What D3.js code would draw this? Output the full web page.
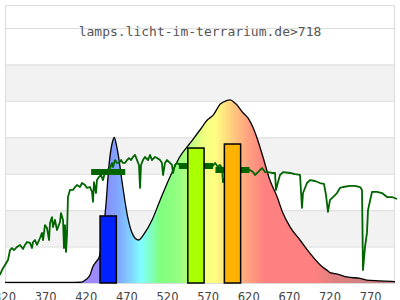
<!DOCTYPE html>
<html>
<head>
<meta charset="utf-8">
<script src="https://cdn.jsdelivr.net/npm/d3@7"></script>
<style>
  body { margin: 0; background: #fff; }
  svg { display: block; }
</style>
</head>
<body>
<div id="chart"></div>
<script>
// lamp spectrum (relative, peak ~100)
const lampNm  = [320, 360, 400, 412, 416, 420, 424.6, 428, 433, 436, 440, 444, 448, 452, 454.5, 457, 459, 465, 471, 477.5, 484, 492, 501, 511, 523, 535, 548, 560, 569, 576, 585, 592, 597, 603, 607, 612, 619, 625, 631, 637.5, 646, 655, 662, 671, 683, 695, 708, 717.5, 721, 729, 741, 757, 765, 780, 800];
const lampVal = [0.3, 0.3, 0.3, 0.4, 0.8, 2, 4.4, 8.8, 12.1, 14.3, 25, 41.7, 64.8, 77, 80, 76, 71.4, 52.7, 36.2, 26.4, 23.6, 27.5, 34.6, 45.6, 58.2, 69.2, 76.9, 84, 89.5, 92, 98.3, 100, 100.5, 98.8, 97, 93.9, 90.6, 85.6, 78.5, 69.2, 56.5, 47.2, 38.4, 30.7, 23.6, 16.5, 9.9, 6.6, 5.5, 4.9, 3.3, 2.5, 1.6, 1.2, 0.8];

// daylight reference
const sunNm  = [313.8, 316.3, 320, 323.7, 326.2, 328.6, 331.1, 334.8, 338.5, 342.2, 344.6, 347.1, 350.8, 353.2, 354.5, 356.9, 359.4, 363.1, 365.5, 366.8, 369.2, 371.7, 374.2, 375.4, 377.8, 379.1, 381.5, 384, 387.7, 388.9, 391.4, 392.6, 393.8, 395.1, 396.3, 397.5, 400, 403.7, 406.2, 408.6, 412.3, 414.8, 418.5, 420.9, 424.6, 427.1, 428.3, 429.5, 432, 433.2, 435.7, 438.2, 440.6, 443.1, 445.5, 449.2, 451.7, 452.9, 455.4, 457.8, 460.3, 462.8, 465.2, 467.7, 470.2, 472.6, 475.1, 477.5, 480, 482.5, 484.9, 486.2, 487.4, 489.8, 492.3, 496, 498.5, 500.9, 504.6, 507.1, 510.8, 513.2, 514.5, 516.9, 519.4, 523.1, 525.5, 526.8, 529.2, 531.7, 535.4, 539.1, 542.8, 547.7, 553.8, 560, 566.2, 569.9, 574.8, 578.5, 582.2, 584.6, 587.1, 588.3, 597, 604.4, 610.3, 615.2, 621.5, 625.2, 627.7, 631.4, 633.8, 636.3, 640, 643.7, 648.6, 652.3, 653.5, 656, 658.5, 662.2, 670.8, 676.9, 683.1, 685.5, 686.8, 691.7, 695.4, 701.5, 707.7, 712.6, 715.1, 717.5, 720, 723.7, 728.6, 732.3, 736, 744.6, 750.8, 757, 759.4, 760.6, 763.1, 765.5, 766.8, 771.7, 777.9, 784, 790.2, 796.3, 802.5];
const sunVal = [4.4, 7.1, 9.9, 12.6, 18.1, 19.2, 18.1, 19.8, 20.9, 18.7, 20.9, 22.5, 22, 19.2, 22.5, 23.6, 20.9, 24.7, 27.5, 23.6, 31.8, 30.2, 23.6, 32.9, 36.2, 30.7, 34.6, 29.1, 33.5, 38.4, 34.6, 19.2, 31.8, 17, 26.4, 47.2, 51.1, 51.1, 52.7, 53.8, 52.7, 54.9, 53.8, 52.2, 52.7, 50, 44.5, 55.4, 49.4, 56.5, 58.2, 59.3, 56.5, 60.9, 62, 63.1, 65.9, 63.7, 67.5, 65.9, 65.9, 67.5, 65.9, 65.9, 67.5, 68.6, 67.5, 69.2, 70.3, 67.5, 64.8, 52.2, 64.8, 67.5, 69.2, 67.5, 70.3, 67.5, 69.2, 68.6, 67.5, 65.9, 59.3, 65.9, 67.5, 65.9, 64.8, 60.4, 64.8, 65.9, 64.8, 63.1, 64.8, 63.7, 64.2, 64.2, 64.8, 63.1, 63.7, 65.9, 63.7, 64.8, 63.1, 55.4, 63.1, 62, 63.1, 62, 62, 60.9, 59.3, 60.9, 62, 63.1, 60.9, 60.9, 60.4, 60.4, 51.1, 55.4, 59.3, 60.9, 60.4, 59.8, 59.3, 41.2, 49.4, 54.9, 56.5, 56, 54.9, 54.4, 48.3, 39, 45.6, 47.2, 49.4, 52.2, 52.7, 53.3, 53.3, 52.7, 51.1, 7.1, 19.8, 27.5, 40.1, 50, 50, 49.4, 47.2, 47.2, 46.1];

// lamp bars and daylight averages
const bandNm   = [447, 555, 600];
const barVal   = [36.8, 74.1, 76.3];
const barColor = ["#0022ff", "#aaff00", "#ffb300"];
const avgVal   = [61, 64.2, 62];

const xTicks = [320, 370, 420, 470, 520, 570, 620, 670, 720, 770];
const title = "lamps.licht-im-terrarium.de>718";

const W = 400, H = 300;
const plotL = 5, plotR = 395, plotT = 5, plotB = 283;

const svg = d3.select("#chart").append("svg")
    .attr("width", W)
    .attr("height", H)
    .style("font-family", "'DejaVu Sans', sans-serif");

const x = d3.scaleLinear().domain([320, 800]).range([plotL, plotR]);
const y = d3.scaleLinear().domain([0, 140]).range([plotB, 28]);

// alternating bands
svg.append("g")
  .selectAll("rect")
  .data([20, 60, 100])
  .join("rect")
    .attr("x", plotL)
    .attr("width", plotR - plotL)
    .attr("y", d => y(d + 20))
    .attr("height", d => y(d) - y(d + 20))
    .attr("fill", "#f2f2f2");

// grid lines
svg.append("g")
  .selectAll("line")
  .data(d3.range(20, 141, 20))
  .join("line")
    .attr("x1", plotL).attr("x2", plotR)
    .attr("y1", d => y(d) + 0.5).attr("y2", d => y(d) + 0.5)
    .attr("stroke", "#dcdcdc");

// frame
svg.append("path")
    .attr("d", `M${plotL + 0.5},${plotB}V${plotT + 0.5}H${plotR - 0.5}V${plotB}`)
    .attr("fill", "none")
    .attr("stroke", "#dcdcdc");

// spectrum gradient
const stops = [
  [320, "#a088f8"], [430, "#a088f8"], [445, "#8890ff"], [460, "#80a8ff"],
  [475, "#80d4ff"], [488, "#80ffff"], [500, "#80ffc0"], [510, "#80ff80"],
  [530, "#90ff80"], [545, "#b0ff80"], [565, "#f0ff80"], [578, "#ffff80"],
  [592, "#ffe080"], [605, "#ffc080"], [620, "#ffa080"], [640, "#ff8080"],
  [700, "#ff8080"], [725, "#e08080"], [760, "#d08080"], [800, "#c08080"]
];
const grad = svg.append("defs").append("linearGradient")
    .attr("id", "spec")
    .attr("gradientUnits", "userSpaceOnUse")
    .attr("x1", x(320)).attr("x2", x(800))
    .attr("y1", 0).attr("y2", 0);
grad.selectAll("stop")
  .data(stops)
  .join("stop")
    .attr("offset", d => (d[0] - 320) / 480)
    .attr("stop-color", d => d[1]);

const lamp = lampNm.map((n, i) => [n, lampVal[i]]);

svg.append("path")
    .datum(lamp)
    .attr("fill", "url(#spec)")
    .attr("d", d3.area().x(d => x(d[0])).y0(y(0)).y1(d => y(d[1])).curve(d3.curveMonotoneX));

svg.append("path")
    .datum(lamp)
    .attr("fill", "none")
    .attr("stroke", "#000")
    .attr("stroke-width", 1.3)
    .attr("d", d3.line().x(d => x(d[0])).y(d => y(d[1])).curve(d3.curveMonotoneX));

// bottom axis line
svg.append("line")
    .attr("x1", plotL).attr("x2", plotR)
    .attr("y1", plotB + 0.5).attr("y2", plotB + 0.5)
    .attr("stroke", "#dcdcdc");

// daylight line
svg.append("path")
    .datum(sunNm.map((n, i) => [n, sunVal[i]]))
    .attr("fill", "none")
    .attr("stroke", "#006400")
    .attr("stroke-width", 1.8)
    .attr("stroke-linejoin", "round")
    .attr("d", d3.line().x(d => x(d[0])).y(d => y(d[1])));

// daylight average markers
svg.append("g")
  .selectAll("line")
  .data(bandNm)
  .join("line")
    .attr("x1", d => x(d - 21)).attr("x2", d => x(d + 21))
    .attr("y1", (d, i) => y(avgVal[i])).attr("y2", (d, i) => y(avgVal[i]))
    .attr("stroke", "#006400")
    .attr("stroke-width", 6);

// lamp bars
svg.append("g")
  .selectAll("rect")
  .data(bandNm)
  .join("rect")
    .attr("x", d => x(d - 10))
    .attr("width", d => x(d + 10) - x(d - 10))
    .attr("y", (d, i) => y(barVal[i]))
    .attr("height", (d, i) => y(0) - y(barVal[i]))
    .attr("fill", (d, i) => barColor[i])
    .attr("stroke", "#000")
    .attr("stroke-width", 1.5);

// x labels
svg.append("g")
  .selectAll("text")
  .data(xTicks)
  .join("text")
    .attr("x", d => x(d))
    .attr("y", 301)
    .attr("text-anchor", "middle")
    .attr("font-size", 11.5)
    .attr("fill", "#444")
    .text(d => d);

svg.append("text")
    .attr("x", 200)
    .attr("y", 35.5)
    .attr("text-anchor", "middle")
    .attr("font-family", "'DejaVu Sans Mono', monospace")
    .attr("font-size", 13)
    .attr("fill", "#555")
    .text(title);
</script>
</body>
</html>
